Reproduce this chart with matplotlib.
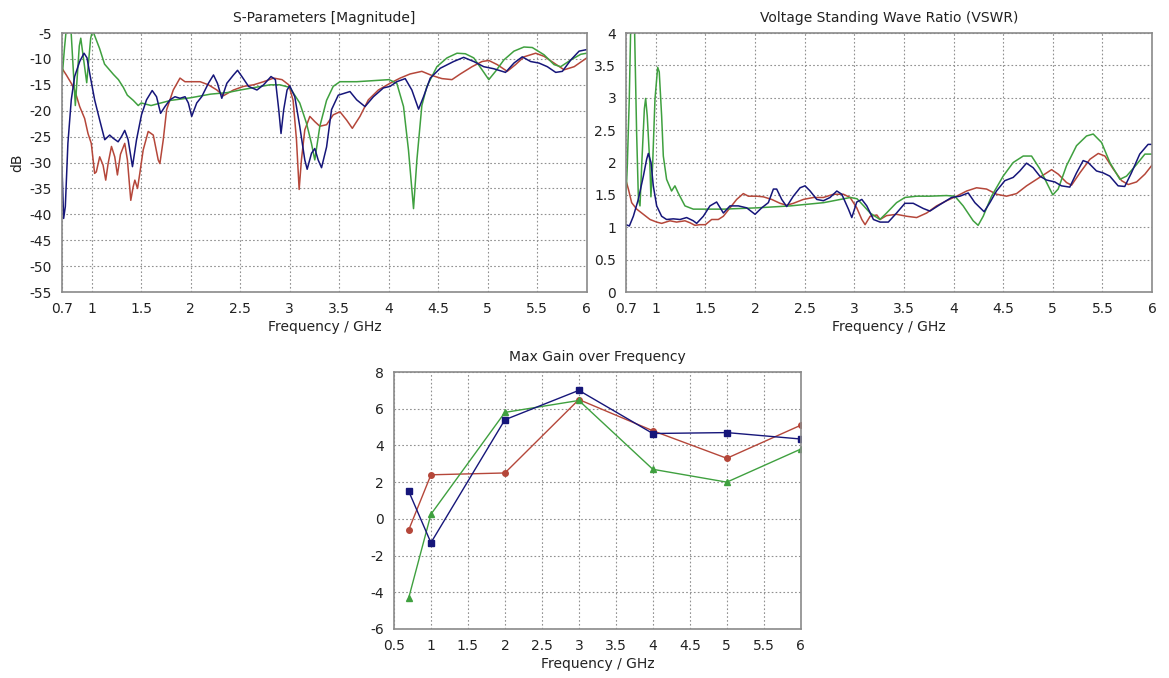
import matplotlib
matplotlib.use('Agg')
import matplotlib.pyplot as plt

RED = '#b5473a'
GREEN = '#3fa03f'
BLUE = '#16167a'

# ---- S-parameters [dB] ----
s_red_f = [0.70, 0.744, 0.794, 0.828, 0.879, 0.929, 0.963, 0.996, 1.030, 1.047, 1.081, 1.115, 1.142,
           1.166, 1.200, 1.233, 1.260, 1.291, 1.334, 1.361, 1.395, 1.419, 1.436, 1.463, 1.486, 1.520,
           1.571, 1.622, 1.672, 1.689, 1.723, 1.757, 1.824, 1.892, 1.942, 2.010, 2.095, 2.179, 2.264,
           2.331, 2.432, 2.534, 2.635, 2.736, 2.838, 2.922, 2.990,
           3.034, 3.068, 3.095, 3.118, 3.152, 3.203, 3.253, 3.304, 3.372, 3.439, 3.507, 3.574, 3.632,
           3.709, 3.794, 3.895, 4.013, 4.115, 4.216, 4.334, 4.436, 4.537, 4.638, 4.723, 4.841, 4.942,
           5.010, 5.095, 5.196, 5.280, 5.365, 5.483, 5.568, 5.669, 5.770, 5.872, 6.0]
s_red = [-11.8, -13.1, -14.7, -16.0, -19.2, -21.5, -24.4, -26.3, -32.1, -31.8, -28.9, -30.5, -33.4,
         -30.2, -26.9, -28.9, -32.4, -28.4, -26.3, -29.5, -37.3, -34.7, -33.4, -35.0, -32.1, -27.6,
         -24.0, -24.7, -29.5, -30.2, -25.6, -19.8, -16.0, -13.7, -14.4, -14.4, -14.4, -15.0, -16.0,
         -17.1, -16.0, -15.3, -15.0, -14.4, -13.7, -14.0, -15.0,
         -18.0, -25.6, -35.2, -29.5, -23.7, -21.1, -22.1, -23.0, -22.7, -20.8, -20.2, -21.8, -23.4,
         -21.1, -17.9, -16.0, -14.7, -13.7, -12.9, -12.4, -13.2, -13.8, -14.0, -12.9, -11.5, -10.5,
         -10.3, -11.1, -12.4, -11.1, -9.6, -8.9, -9.5, -10.8, -12.1, -11.5, -9.8]

s_green_f = [0.70, 0.725, 0.745, 0.790, 0.835, 0.875, 0.890, 0.950, 0.990, 1.010, 1.030, 1.080, 1.130,
             1.220, 1.270, 1.320, 1.360, 1.420, 1.470, 1.500, 1.600, 1.700, 1.800, 2.000, 2.200,
             2.370, 2.500, 2.650, 2.800, 2.900, 3.000,
             3.101, 3.169, 3.219, 3.253, 3.304, 3.372, 3.439, 3.507, 3.676, 4.003, 4.081, 4.149,
             4.199, 4.250, 4.284, 4.334, 4.385, 4.486, 4.588, 4.689, 4.773, 4.858, 4.942, 5.010,
             5.078, 5.162, 5.264, 5.365, 5.449, 5.568, 5.669, 5.736, 5.838, 5.939, 6.0]
s_green = [-14.0, -8.0, -4.0, -4.0, -19.0, -7.5, -6.0, -14.6, -6.0, -4.5, -5.5, -8.0, -11.0,
           -13.0, -14.0, -15.5, -17.0, -18.0, -19.0, -18.5, -19.0, -18.5, -18.0, -17.5, -16.8,
           -16.5, -16.0, -15.5, -15.0, -15.0, -15.5,
           -18.5, -22.4, -26.3, -29.5, -23.0, -18.0, -15.3, -14.4, -14.4, -14.0, -14.7, -19.2,
           -27.6, -38.9, -29.5, -19.0, -15.3, -11.5, -9.8, -8.9, -9.0, -9.8, -12.1, -14.0,
           -12.4, -10.2, -8.5, -7.7, -7.8, -9.2, -11.1, -11.5, -10.2, -9.1, -8.9]

s_blue_f = [0.70, 0.717, 0.734, 0.760, 0.794, 0.828, 0.879, 0.923, 0.953, 0.986, 1.030, 1.081, 1.132,
            1.182, 1.216, 1.267, 1.301, 1.334, 1.368, 1.412, 1.453, 1.503, 1.554, 1.611, 1.655,
            1.696, 1.740, 1.791, 1.841, 1.892, 1.943, 1.976, 2.010, 2.061, 2.111, 2.179, 2.230,
            2.270, 2.314, 2.365, 2.432, 2.473, 2.517, 2.584, 2.669, 2.736, 2.811, 2.855, 2.889,
            2.912, 2.939, 2.973, 3.000,
            3.051, 3.101, 3.152, 3.176, 3.220, 3.253, 3.287, 3.321, 3.372, 3.422, 3.490, 3.608,
            3.676, 3.760, 3.845, 3.946, 4.013, 4.081, 4.166, 4.233, 4.301, 4.351, 4.419, 4.520,
            4.655, 4.756, 4.858, 4.959, 5.061, 5.179, 5.264, 5.348, 5.432, 5.517, 5.601, 5.686,
            5.753, 5.838, 5.922, 6.0]
s_blue = [-30.8, -40.8, -38.5, -26.3, -17.9, -13.4, -10.5, -8.9, -9.8, -13.4, -17.9, -21.8, -25.6,
          -24.7, -25.3, -26.0, -25.0, -23.8, -25.6, -30.8, -25.6, -20.8, -17.9, -16.1, -17.3,
          -20.5, -19.2, -17.9, -17.3, -17.6, -17.3, -18.5, -21.1, -18.5, -17.3, -14.7, -13.1,
          -14.7, -17.6, -14.7, -13.1, -12.2, -13.4, -15.3, -16.0, -15.0, -13.4, -14.0, -19.8,
          -24.4, -19.8, -16.0, -15.2,
          -17.3, -23.0, -29.5, -31.3, -28.2, -27.3, -29.5, -31.0, -27.0, -19.8, -17.0, -16.3,
          -17.9, -19.2, -17.3, -15.6, -15.3, -14.4, -13.8, -16.0, -19.7, -17.3, -13.7, -11.8,
          -10.5, -9.7, -10.5, -11.5, -11.9, -12.6, -10.8, -9.6, -10.5, -10.8, -11.5, -12.6,
          -12.4, -10.2, -8.5, -8.2]

# ---- VSWR ----
v_green_f = [0.70, 0.713, 0.733, 0.750, 0.783, 0.807, 0.825, 0.841, 0.858, 0.885, 0.898, 0.914,
             0.941, 0.951, 0.968, 0.992, 1.019, 1.035, 1.059, 1.076, 1.109, 1.159, 1.193, 1.226,
             1.294, 1.378, 1.445, 1.500, 1.685, 2.020, 2.356, 2.692, 2.894, 2.961, 3.028, 3.095,
             3.160,
             3.258, 3.325, 3.426, 3.510, 3.627, 3.761, 3.929, 4.013, 4.097, 4.198, 4.248, 4.299,
             4.383, 4.500, 4.601, 4.702, 4.786, 4.870, 4.954, 5.000, 5.054, 5.138, 5.239, 5.340,
             5.407, 5.491, 5.575, 5.676, 5.743, 5.844, 5.928, 6.0]
v_green = [1.48, 1.95, 2.98, 4.3, 4.3, 2.46, 1.43, 1.33, 1.95, 2.83, 2.99, 2.72, 1.95,
           1.47, 1.95, 2.98, 3.47, 3.40, 2.72, 2.10, 1.74, 1.56, 1.64, 1.53,
           1.33, 1.28, 1.28, 1.28, 1.28, 1.30, 1.33, 1.38, 1.44, 1.46, 1.44, 1.33,
           1.22,
           1.12, 1.22, 1.38, 1.46, 1.48, 1.48, 1.49, 1.48, 1.33, 1.10, 1.03, 1.17,
           1.48, 1.79, 2.00, 2.10, 2.10, 1.90, 1.64, 1.50, 1.59, 1.95, 2.26, 2.41,
           2.44, 2.31, 2.00, 1.74, 1.79, 1.97, 2.13, 2.13]

v_red_f = [0.70, 0.724, 0.757, 0.808, 0.875, 0.942, 1.009, 1.059, 1.143, 1.210, 1.294, 1.344,
           1.395, 1.445, 1.500, 1.563, 1.630, 1.681, 1.748, 1.815, 1.882, 1.933, 2.017, 2.084,
           2.168, 2.252, 2.319, 2.386, 2.487, 2.588, 2.689, 2.790, 2.891, 2.958, 3.025, 3.076,
           3.109, 3.160, 3.227,
           3.260, 3.325, 3.426, 3.527, 3.628, 3.729, 3.829, 3.930, 4.031, 4.132, 4.232, 4.333,
           4.434, 4.534, 4.635, 4.736, 4.837, 4.938, 4.988, 5.055, 5.139, 5.189, 5.273, 5.374,
           5.458, 5.525, 5.609, 5.693, 5.760, 5.844, 5.928, 6.0]
v_red = [1.72, 1.59, 1.38, 1.28, 1.20, 1.12, 1.08, 1.06, 1.10, 1.08, 1.10, 1.07,
         1.03, 1.04, 1.04, 1.12, 1.12, 1.17, 1.30, 1.43, 1.52, 1.48, 1.48, 1.47,
         1.43, 1.37, 1.34, 1.37, 1.43, 1.46, 1.46, 1.51, 1.51, 1.46, 1.30, 1.12,
         1.04, 1.17, 1.19,
         1.12, 1.18, 1.20, 1.17, 1.15, 1.22, 1.33, 1.41, 1.48, 1.56, 1.61, 1.59,
         1.51, 1.48, 1.52, 1.64, 1.74, 1.84, 1.89, 1.82, 1.69, 1.65, 1.84, 2.05,
         2.14, 2.10, 1.90, 1.72, 1.66, 1.70, 1.82, 1.96]

v_blue_f = [0.70, 0.734, 0.774, 0.824, 0.875, 0.908, 0.925, 0.952, 0.975, 1.009, 1.059, 1.109,
            1.176, 1.244, 1.311, 1.378, 1.412, 1.479, 1.546, 1.613, 1.681, 1.748, 1.832, 1.916,
            2.000, 2.067, 2.134, 2.185, 2.218, 2.269, 2.319, 2.386, 2.454, 2.504, 2.555, 2.622,
            2.689, 2.756, 2.824, 2.874, 2.941, 2.975, 3.025, 3.076, 3.126, 3.193, 3.260,
            3.343, 3.426, 3.510, 3.594, 3.695, 3.762, 3.863, 3.980, 4.064, 4.148, 4.215, 4.308,
            4.366, 4.433, 4.517, 4.601, 4.668, 4.735, 4.802, 4.869, 4.936, 5.020, 5.087, 5.171,
            5.239, 5.306, 5.356, 5.440, 5.507, 5.574, 5.658, 5.725, 5.792, 5.876, 5.960, 6.0]
v_blue = [1.04, 1.02, 1.17, 1.43, 1.79, 2.05, 2.14, 2.00, 1.64, 1.33, 1.17, 1.12,
          1.13, 1.12, 1.15, 1.10, 1.06, 1.17, 1.33, 1.39, 1.22, 1.33, 1.33, 1.30,
          1.20, 1.30, 1.38, 1.59, 1.59, 1.43, 1.32, 1.48, 1.61, 1.64, 1.56, 1.43,
          1.41, 1.46, 1.56, 1.51, 1.28, 1.15, 1.39, 1.43, 1.33, 1.12, 1.08,
          1.08, 1.22, 1.37, 1.37, 1.29, 1.25, 1.35, 1.46, 1.48, 1.53, 1.38, 1.24,
          1.38, 1.56, 1.72, 1.77, 1.87, 1.99, 1.92, 1.79, 1.73, 1.70, 1.64, 1.62,
          1.84, 2.03, 2.00, 1.87, 1.84, 1.79, 1.64, 1.63, 1.84, 2.13, 2.28, 2.28]

# ---- max gain [dBi] ----
gain_f = [0.7, 1, 2, 3, 4, 5, 6]
gain_red = [-0.6, 2.4, 2.5, 6.5, 4.8, 3.3, 5.1]
gain_green = [-4.3, 0.25, 5.8, 6.45, 2.7, 2.0, 3.8]
gain_blue = [1.5, -1.3, 5.4, 7.0, 4.65, 4.7, 4.35]

plt.rcParams['font.family'] = 'DejaVu Sans'
plt.rcParams['font.size'] = 10


def style_axes(ax, title, xticks, yticks, xlim, ylim):
    ax.set_title(title, fontsize=10, pad=8, color='#222222')
    ax.set_xlim(xlim)
    ax.set_ylim(ylim)
    ax.set_xticks(xticks)
    ax.set_xticklabels(['%g' % t for t in xticks])
    ax.set_yticks(yticks)
    ax.set_yticklabels(['%g' % t for t in yticks])
    ax.tick_params(length=0, pad=7, labelsize=10, colors='#222222')
    ax.grid(True, linestyle=(0, (1.5, 2)), color='#909090', linewidth=0.8)
    for sp in ax.spines.values():
        sp.set_color('#8a8a8a')
        sp.set_linewidth(1.2)
    ax.set_xlabel('Frequency / GHz', fontsize=10, labelpad=3, color='#222222')


fig = plt.figure(figsize=(11.69, 6.78), dpi=100)

ax1 = fig.add_axes([0.053, 0.5693, 0.449, 0.382])
ax1.plot(s_red_f, s_red, color=RED, lw=1.1)
ax1.plot(s_green_f, s_green, color=GREEN, lw=1.1)
ax1.plot(s_blue_f, s_blue, color=BLUE, lw=1.1)
style_axes(ax1, 'S-Parameters [Magnitude]', [0.7, 1, 1.5, 2, 2.5, 3, 3.5, 4, 4.5, 5, 5.5, 6],
           list(range(-55, 0, 5)), (0.7, 6), (-55, -5))
ax1.set_ylabel('dB', fontsize=10, labelpad=4, color='#222222')

ax2 = fig.add_axes([0.5355, 0.5693, 0.45, 0.382])
ax2.plot(v_red_f, v_red, color=RED, lw=1.1)
ax2.plot(v_green_f, v_green, color=GREEN, lw=1.1)
ax2.plot(v_blue_f, v_blue, color=BLUE, lw=1.1)
style_axes(ax2, 'Voltage Standing Wave Ratio (VSWR)', [0.7, 1, 1.5, 2, 2.5, 3, 3.5, 4, 4.5, 5, 5.5, 6],
           [0, 0.5, 1, 1.5, 2, 2.5, 3, 3.5, 4], (0.7, 6), (0, 4))

ax3 = fig.add_axes([0.337, 0.0723, 0.348, 0.379])
ax3.plot(gain_f, gain_red, color=RED, lw=1.0, marker='o', ms=4)
ax3.plot(gain_f, gain_green, color=GREEN, lw=1.0, marker='^', ms=4.5)
ax3.plot(gain_f, gain_blue, color=BLUE, lw=1.0, marker='s', ms=4.5)
style_axes(ax3, 'Max Gain over Frequency', [0.5, 1, 1.5, 2, 2.5, 3, 3.5, 4, 4.5, 5, 5.5, 6],
           list(range(-6, 9, 2)), (0.5, 6), (-6, 8))

fig.savefig('out.png', dpi=100)
